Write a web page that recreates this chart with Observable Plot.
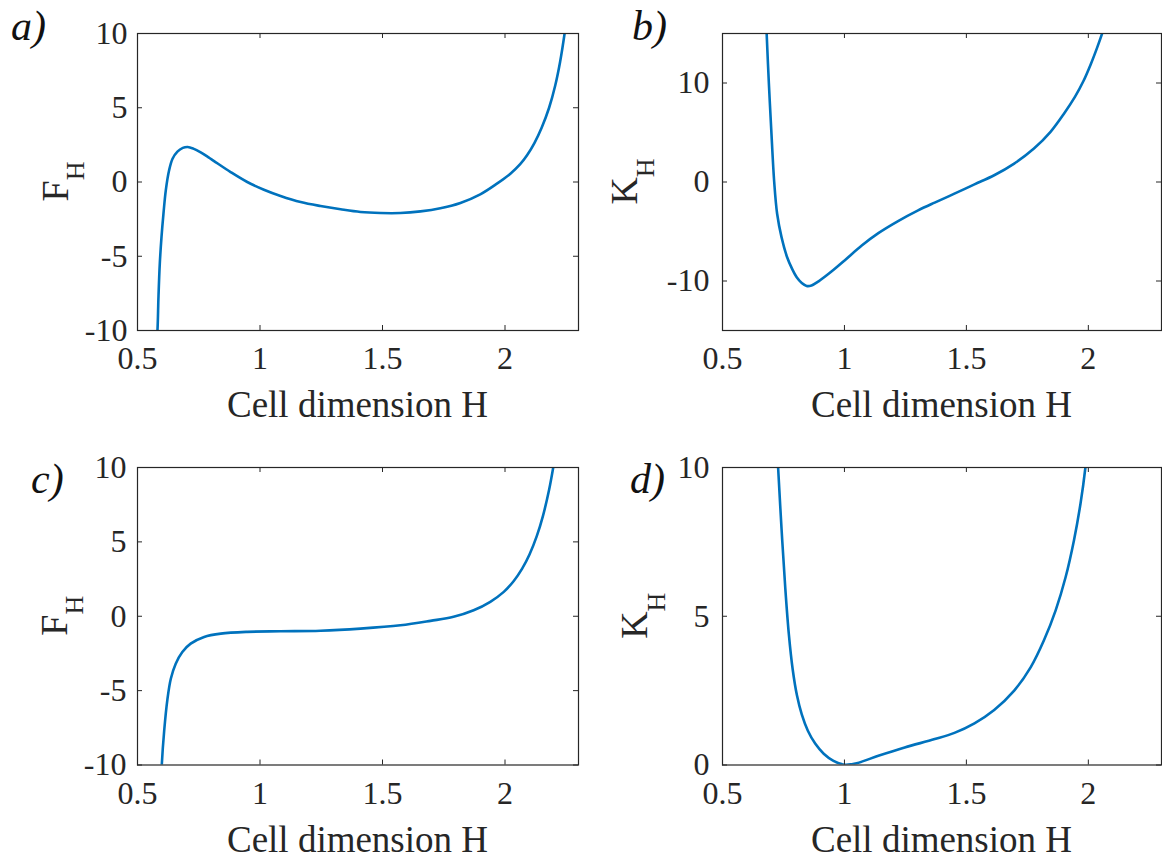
<!DOCTYPE html>
<html><head><meta charset="utf-8">
<script src="https://cdn.jsdelivr.net/npm/d3@7"></script>
<script src="https://cdn.jsdelivr.net/npm/@observablehq/plot@0.6"></script>
<style>
html,body{margin:0;padding:0;background:#fff;}
#wrap{position:relative;width:1162px;height:861px;overflow:hidden;background:#fff;}
.panel{position:absolute;}
</style></head><body><div id="wrap"></div>
<script>
// ---------- data ----------
const xTicks = [0.5, 1, 1.5, 2];
const xLabel = "Cell dimension H";

// panel a: F_H vs H
const hA = [0.575,0.5815,0.5856,0.591,0.598,0.606,0.6155,0.629,0.643,0.663,0.685,0.705,0.728,0.758,0.790,0.8125,0.880,0.948,1.016,1.084,1.166,1.247,1.329,1.410,1.492,1.573,1.655,1.736,1.818,1.899,1.967,2.022,2.062,2.09,2.12,2.15,2.18,2.205,2.225,2.245,2.255];
const fA = [-11.5,-10,-7.74,-5.5,-3.7,-2.13,-0.56,0.79,1.57,2.05,2.30,2.36,2.25,2.0,1.66,1.41,0.67,0.0,-0.52,-0.94,-1.35,-1.62,-1.84,-2.02,-2.09,-2.09,-1.98,-1.77,-1.41,-0.83,-0.11,0.56,1.20,1.80,2.62,3.67,5.0,6.5,8.1,10.2,11.5];
const yTicksA = [-10, -5, 0, 5, 10];

// panel b: K_H vs H
const hB = [0.679,0.681,0.690,0.700,0.712,0.724,0.742,0.765,0.785,0.805,0.825,0.845,0.865,0.894,0.948,1.003,1.071,1.139,1.220,1.302,1.370,1.451,1.533,1.614,1.696,1.777,1.845,1.900,1.945,1.980,2.010,2.035,2.058,2.07];
const kB = [16.5,15.03,10.03,5.24,0,-3.21,-5.57,-7.6,-8.75,-9.65,-10.2,-10.5,-10.45,-10.03,-9.02,-7.87,-6.42,-5.17,-3.95,-2.87,-2.08,-1.18,-0.24,0.68,1.86,3.38,5.07,6.9,8.6,10.2,11.9,13.5,15.1,16.0];
const yTicksB = [-10, 0, 10];

// panel c: F_H vs H
const hC = [0.597,0.599,0.609,0.622,0.636,0.656,0.683,0.717,0.772,0.840,0.948,1.084,1.247,1.410,1.573,1.696,1.790,1.872,1.940,1.995,2.035,2.070,2.100,2.130,2.155,2.180,2.200,2.210];
const fC = [-11,-10.03,-7.68,-5.6,-4.2,-3.19,-2.40,-1.84,-1.39,-1.17,-1.05,-1.01,-0.97,-0.83,-0.61,-0.31,-0.04,0.40,0.97,1.64,2.35,3.2,4.15,5.4,6.75,8.5,10.3,11.3];
const yTicksC = [-10, -5, 0, 5, 10];

// panel d: K_H vs H
const hD = [0.724,0.728,0.742,0.757,0.772,0.788,0.805,0.825,0.850,0.880,0.915,0.955,1.000,1.050,1.139,1.247,1.370,1.451,1.533,1.614,1.696,1.764,1.818,1.866,1.907,1.941,1.968,1.988,1.995];
const kD = [10.6,10,7.95,6.0,4.4,3.2,2.35,1.7,1.15,0.72,0.38,0.14,0.01,0.06,0.31,0.59,0.87,1.08,1.40,1.85,2.50,3.29,4.19,5.20,6.32,7.55,8.79,10.0,10.6];
const yTicksD = [0, 5, 10];

// ---------- layout ----------
const INK = "#262626";
const BLUE = "#0072BD";
const FONT = "'Liberation Serif','Times New Roman',serif";

const panels = [
  {hs: hA, vs: fA, yDomain: [-10, 10], yTicks: yTicksA, sym: "F", letter: "a", left: 0,   top: 0,   width: 580, height: 430, mL: 137, mR: 2, mT: 33, mB: 100, tpY: 10, ylabX: 68, subDy: 16, letX: 11, letY: 40},
  {hs: hB, vs: kB, yDomain: [-15, 15], yTicks: yTicksB, sym: "K", letter: "b", left: 580, top: 0,   width: 582, height: 430, mL: 142, mR: 1, mT: 33, mB: 100, tpY: 13, ylabX: 57, subDy: 17, letX: 52, letY: 40},
  {hs: hC, vs: fC, yDomain: [-10, 10], yTicks: yTicksC, sym: "F", letter: "c", left: 0,   top: 430, width: 580, height: 431, mL: 137, mR: 2, mT: 37, mB: 96.5, tpY: 11, ylabX: 67, subDy: 16, letX: 31, letY: 63},
  {hs: hD, vs: kD, yDomain: [0, 10],   yTicks: yTicksD, sym: "K", letter: "d", left: 580, top: 430, width: 582, height: 431, mL: 142, mR: 1, mT: 37, mB: 96.5, tpY: 13, ylabX: 67, subDy: 18, letX: 50, letY: 63}
];

const wrap = document.getElementById("wrap");
const fmt = d => String(d);

for (const p of panels) {
  const data = p.hs.map((h, i) => ({h, v: p.vs[i]}));
  const pw = p.width - p.mL - p.mR;
  const ph = p.height - p.mT - p.mB;
  const svg = Plot.plot({
    width: p.width, height: p.height,
    marginLeft: p.mL, marginRight: p.mR, marginTop: p.mT, marginBottom: p.mB,
    style: {fontFamily: FONT, fontSize: "32px", color: INK, background: "transparent", overflow: "visible"},
    x: {domain: [0.5, 2.3]},
    y: {domain: p.yDomain},
    marks: [
      Plot.line(data, {x: "h", y: "v", stroke: BLUE, strokeWidth: 2.6, curve: "catmull-rom", clip: true}),
      Plot.tickX(xTicks, {x: d => d, insetTop: ph - 5, stroke: INK, strokeWidth: 1}),
      Plot.tickX(xTicks, {x: d => d, insetBottom: ph - 5, stroke: INK, strokeWidth: 1}),
      Plot.tickY(p.yTicks, {y: d => d, insetRight: pw - 5, stroke: INK, strokeWidth: 1}),
      Plot.tickY(p.yTicks, {y: d => d, insetLeft: pw - 5, stroke: INK, strokeWidth: 1}),
      Plot.frame({stroke: INK, strokeWidth: 1.2}),
      Plot.axisX({ticks: xTicks, tickSize: 0, tickPadding: 16, tickFormat: fmt, label: null}),
      Plot.axisY({ticks: p.yTicks, tickSize: 0, tickPadding: p.tpY, tickFormat: fmt, label: null})
    ]
  });
  const s = d3.select(svg);
  // x-axis label
  s.append("text")
    .attr("x", p.mL + pw / 2).attr("y", p.mT + ph + 87)
    .attr("text-anchor", "middle")
    .attr("font-family", FONT).attr("font-size", 37).attr("fill", INK)
    .text(xLabel);
  // y-axis label with subscript
  const yl = s.append("text")
    .attr("transform", `translate(${p.ylabX},${p.mT + ph / 2}) rotate(-90)`)
    .attr("text-anchor", "middle")
    .attr("font-family", FONT).attr("fill", INK);
  yl.append("tspan").attr("font-size", 38).text(p.sym);
  yl.append("tspan").attr("font-size", 26).attr("dy", p.subDy).text("H");
  // panel letter
  s.append("text")
    .attr("x", p.letX).attr("y", p.letY)
    .attr("text-anchor", "start")
    .attr("font-family", FONT).attr("font-style", "italic").attr("font-size", 42).attr("fill", "#111")
    .text(p.letter + ")");

  const div = document.createElement("div");
  div.className = "panel";
  div.style.left = p.left + "px";
  div.style.top = p.top + "px";
  div.style.width = p.width + "px";
  div.style.height = p.height + "px";
  div.appendChild(svg);
  wrap.appendChild(div);
}
</script></body></html>
